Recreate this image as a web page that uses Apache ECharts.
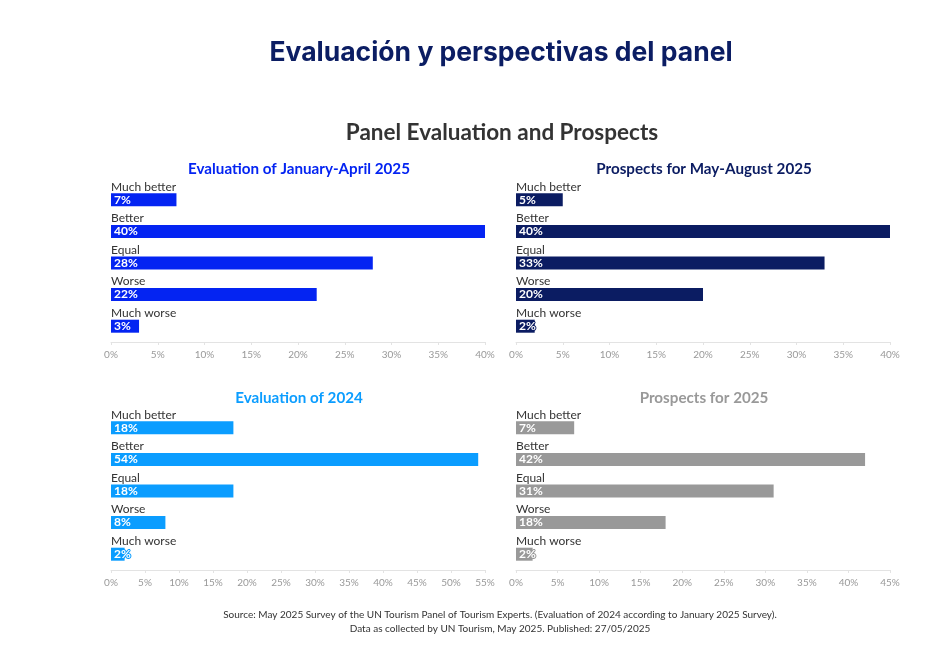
<!DOCTYPE html>
<html>
<head>
<meta charset="utf-8">
<script src="https://cdn.jsdelivr.net/npm/echarts@6/dist/echarts.min.js"></script>
<style>
  html, body { margin: 0; padding: 0; background: #fff; }
  #chart { width: 950px; height: 649px; }
</style>
</head>
<body>
<div id="chart"></div>
<script>
// categories shared by all four panels
const categories = ['Much better', 'Better', 'Equal', 'Worse', 'Much worse']

// values in percent
const evalJanApr2025 = [7, 40, 28, 22, 3]
const prospectsMayAug2025 = [5, 40, 33, 20, 2]
const eval2024 = [18, 54, 18, 8, 2]
const prospects2025 = [7, 42, 31, 18, 2]

const panelTitles = [
  'Evaluation of January-April 2025',
  'Prospects for May-August 2025',
  'Evaluation of 2024',
  'Prospects for 2025',
]
const axisMax = [40, 40, 55, 45]

const FONT = 'Lato, "Noto Sans", sans-serif'
const COLORS = ['#0424f2', '#0b1c62', '#0b9dff', '#999999']

// panel boxes: left, top, width, height
const boxes = [
  { left: 111, top: 184, width: 374, height: 158 },
  { left: 516, top: 184, width: 374, height: 158 },
  { left: 111, top: 412, width: 374, height: 158 },
  { left: 516, top: 412, width: 374, height: 158 },
]
const seriesData = [evalJanApr2025, prospectsMayAug2025, eval2024, prospects2025]

const chart = echarts.init(document.getElementById('chart'))

const titles = [
  {
    text: 'Evaluación y perspectivas del panel',
    left: 496, top: 35, textAlign: 'center',
    textStyle: { fontFamily: 'Inter, sans-serif', fontSize: 26.5, fontWeight: 'bold', color: '#0b1d63' },
  },
  {
    text: 'Panel Evaluation and Prospects',
    left: 497, top: 116, textAlign: 'center',
    textStyle: { fontFamily: FONT, fontSize: 22.5, fontWeight: 'bold', color: '#333' },
  },
  {
    text: 'Source: May 2025 Survey of the UN Tourism Panel of Tourism Experts. (Evaluation of 2024 according to January 2025 Survey).\nData as collected by UN Tourism, May 2025. Published: 27/05/2025',
    left: 495, top: 603, textAlign: 'center',
    textStyle: { fontFamily: FONT, fontSize: 10, fontWeight: 'normal', color: '#333', lineHeight: 14, align: 'center' },
  },
]
boxes.forEach((b, i) => {
  titles.push({
    text: panelTitles[i],
    left: b.left + b.width / 2 - 4, top: i < 2 ? 157 : 386, textAlign: 'center',
    textStyle: { fontFamily: FONT, fontSize: 15.2, fontWeight: 'bold', color: COLORS[i] },
  })
})

chart.setOption({
  animation: false,
  textStyle: { fontFamily: FONT },
  title: titles,
  grid: boxes.map(b => ({ ...b, containLabel: false })),
  xAxis: boxes.map((b, i) => ({
    gridIndex: i,
    type: 'value',
    min: 0,
    max: axisMax[i],
    interval: 5,
    axisLine: { show: true, lineStyle: { color: '#e3e3e3' } },
    axisTick: { show: true, length: 3, lineStyle: { color: '#e3e3e3' } },
    axisLabel: { color: '#999', fontSize: 10, margin: 8, formatter: '{value}%' },
    splitLine: { show: false },
  })),
  yAxis: boxes.map((b, i) => ({
    gridIndex: i,
    type: 'category',
    inverse: true,
    data: categories,
    axisLine: { show: false },
    axisTick: { show: false },
    axisLabel: {
      inside: true, margin: 0, align: 'left', verticalAlign: 'bottom',
      padding: [0, 0, 7, 0], color: '#333', fontSize: 12, fontFamily: FONT,
    },
  })),
  series: seriesData.map((d, i) => ({
    type: 'bar',
    xAxisIndex: i,
    yAxisIndex: i,
    data: d,
    barWidth: 13,
    itemStyle: { color: COLORS[i] },
    label: {
      show: true,
      position: 'insideLeft',
      distance: 3,
      formatter: '{c}%',
      color: '#fff',
      fontSize: 12,
      fontWeight: 'bold',
      fontFamily: FONT,
      textBorderColor: COLORS[i],
      textBorderWidth: 2,
    },
  })),
})
</script>
</body>
</html>
